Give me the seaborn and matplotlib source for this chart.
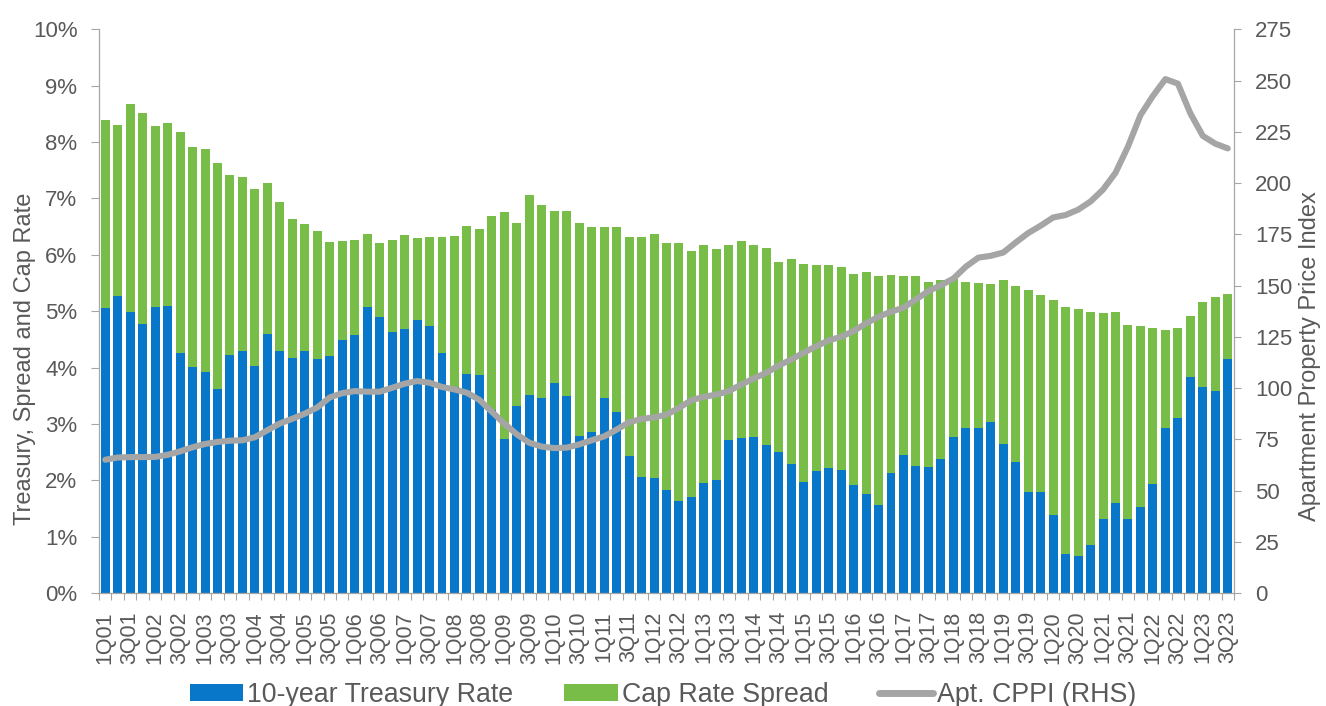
import numpy as np
import pandas as pd
import matplotlib
matplotlib.use("Agg")
import matplotlib.pyplot as plt
from matplotlib.patches import Patch
from matplotlib.lines import Line2D
from matplotlib.ticker import FixedLocator, FuncFormatter
import seaborn as sns

# ---------------- data ----------------
years = list(range(2001, 2024))
quarters = [f"{q}Q{str(y)[2:]}" for y in years for q in range(1, 5)][:91]

treasury = [
    5.05, 5.27, 4.98, 4.77, 5.08, 5.10, 4.26, 4.01,
    3.92, 3.62, 4.23, 4.29, 4.02, 4.60, 4.30, 4.17,
    4.30, 4.16, 4.21, 4.49, 4.57, 5.07, 4.90, 4.63,
    4.68, 4.85, 4.73, 4.26, 3.66, 3.89, 3.86, 3.25,
    2.74, 3.31, 3.52, 3.46, 3.72, 3.49, 2.79, 2.86,
    3.46, 3.21, 2.43, 2.05, 2.04, 1.82, 1.64, 1.71,
    1.95, 2.00, 2.71, 2.75, 2.76, 2.62, 2.50, 2.28,
    1.97, 2.17, 2.22, 2.19, 1.92, 1.75, 1.56, 2.13,
    2.44, 2.26, 2.24, 2.37, 2.76, 2.92, 2.93, 3.03,
    2.65, 2.33, 1.80, 1.80, 1.38, 0.69, 0.65, 0.86,
    1.32, 1.59, 1.32, 1.53, 1.94, 2.93, 3.10, 3.83,
    3.65, 3.59, 4.15,
]

cap_rate = [
    8.39, 8.31, 8.68, 8.52, 8.29, 8.33, 8.18, 7.91, 7.88, 7.63,
    7.42, 7.38, 7.16, 7.27, 6.93, 6.63, 6.54, 6.43, 6.23, 6.25,
    6.27, 6.36, 6.21, 6.27, 6.35, 6.30, 6.32, 6.32, 6.33, 6.51,
    6.45, 6.69, 6.76, 6.56, 7.06, 6.88, 6.77, 6.78, 6.57, 6.50,
    6.49, 6.49, 6.31, 6.32, 6.36, 6.21, 6.21, 6.07, 6.18, 6.11,
    6.18, 6.25, 6.18, 6.12, 5.88, 5.93, 5.83, 5.82, 5.82, 5.79,
    5.66, 5.69, 5.63, 5.64, 5.62, 5.63, 5.51, 5.55, 5.57, 5.51,
    5.50, 5.48, 5.56, 5.45, 5.38, 5.29, 5.20, 5.08, 5.03, 4.99,
    4.96, 4.98, 4.76, 4.73, 4.70, 4.66, 4.70, 4.92, 5.16, 5.25,
    5.30,
]

cppi = [
    65.0, 66.1, 66.3, 66.3, 66.4, 67.4, 69.1, 71.1, 72.7, 73.7,
    74.3, 74.5, 76.0, 79.4, 82.7, 85.0, 87.5, 90.5, 95.4, 97.5,
    98.5, 98.2, 98.2, 100.1, 102.1, 103.4, 102.6, 100.5, 99.3, 97.7,
    94.2, 88.4, 82.6, 77.4, 73.3, 71.4, 70.7, 70.9, 72.5, 74.5,
    76.4, 79.7, 83.3, 84.9, 85.7, 87.0, 90.3, 94.1, 95.7, 96.8,
    98.5, 101.7, 104.7, 107.4, 111.0, 113.9, 117.2, 120.4, 123.2, 125.0,
    127.8, 131.5, 134.8, 137.2, 139.2, 143.2, 147.3, 150.1, 153.4, 159.2,
    163.6, 164.5, 166.1, 171.0, 175.6, 179.2, 183.2, 184.4, 187.0, 191.0,
    196.8, 205.0, 217.8, 233.1, 242.5, 250.7, 248.5, 234.0, 223.0, 219.2,
    216.9,
]

series_names = ["10-year Treasury Rate", "Cap Rate Spread", "Apt. CPPI (RHS)"]
left_ticks = list(range(0, 11))
right_ticks = list(range(0, 276, 25))

# ---------------- style ----------------
BLUE = "#0877C9"
GREEN = "#77BD48"
GREY = "#A5A5A5"
TEXT = "#595959"
SPINE = "#A6A6A6"

sns.set_style("ticks")
plt.rcParams["font.family"] = ["Liberation Sans", "DejaVu Sans"]
plt.rcParams["text.color"] = TEXT
plt.rcParams["axes.labelcolor"] = TEXT
plt.rcParams["xtick.color"] = SPINE
plt.rcParams["ytick.color"] = SPINE
plt.rcParams["xtick.labelcolor"] = TEXT
plt.rcParams["ytick.labelcolor"] = TEXT

df = pd.DataFrame({"quarter": quarters, "treasury": treasury,
                   "cap_rate": cap_rate, "cppi": cppi})
df["pos"] = np.arange(len(df))

fig = plt.figure(figsize=(13.26, 7.06), dpi=100)
ax = fig.add_axes([99 / 1326, 1 - 593 / 706, (1234 - 99) / 1326, (593 - 29.3) / 706])

# stacked bars: total (green) behind, treasury (blue) in front
sns.barplot(data=df, x="quarter", y="cap_rate", order=quarters, color=GREEN,
            saturation=1, width=0.72, ax=ax, errorbar=None, linewidth=0)
sns.barplot(data=df, x="quarter", y="treasury", order=quarters, color=BLUE,
            saturation=1, width=0.72, ax=ax, errorbar=None, linewidth=0)

ax.set_xlim(-0.5, len(quarters) - 0.5)
ax.set_ylim(0, 10)
ax.set_yticks(left_ticks)
ax.yaxis.set_major_formatter(FuncFormatter(lambda v, p: f"{int(v)}%"))
ax.set_xticks(np.arange(0, len(quarters), 2))
ax.set_xticklabels(quarters[::2], rotation=90, fontsize=15.5, va="top")
ax.xaxis.set_minor_locator(FixedLocator(np.arange(-0.5, len(quarters), 1)))
ax.tick_params(axis="x", which="major", length=0, pad=13)
ax.tick_params(axis="x", which="minor", length=5, width=0.8, direction="out")
ax.tick_params(axis="y", length=5.5, width=0.8, pad=10, labelsize=16)
ax.set_xlabel("")
ax.set_ylabel("Treasury, Spread and Cap Rate", fontsize=17)
ax.yaxis.set_label_coords((36 - 99) / 1135, 0.415)
for s in ["top", "right"]:
    ax.spines[s].set_visible(False)
for s in ["left", "bottom"]:
    ax.spines[s].set_color(SPINE)
    ax.spines[s].set_linewidth(0.9)

# CPPI line on right axis
ax2 = ax.twinx()
sns.lineplot(data=df, x="pos", y="cppi", ax=ax2, color=GREY, linewidth=4.4,
             solid_capstyle="round", solid_joinstyle="round")
ax2.set_ylim(0, 275)
ax2.set_yticks(right_ticks)
ax2.tick_params(axis="y", length=5, width=0.8, pad=10, labelsize=16)
ax2.set_ylabel("Apartment Property Price Index", fontsize=17)
ax2.yaxis.set_label_coords((1299 - 99) / 1135, 0.42)
ax2.set_xlabel("")
ax2.set_xlim(-0.5, len(quarters) - 0.5)
for s in ["top", "left", "bottom"]:
    ax2.spines[s].set_visible(False)
ax2.spines["right"].set_color(SPINE)
ax2.spines["right"].set_linewidth(0.9)

handles = [Patch(facecolor=BLUE, edgecolor="none"),
           Patch(facecolor=GREEN, edgecolor="none"),
           Line2D([0], [0], color=GREY, linewidth=5, solid_capstyle="round")]
fig.legend(handles, series_names, loc="center", ncol=3,
           bbox_to_anchor=(663 / 1326, 1 - 695 / 706), frameon=False,
           fontsize=19.3, handlelength=2.0, handleheight=0.55,
           handletextpad=0.15, columnspacing=1.9, borderaxespad=0)

fig.savefig("out.png", dpi=100)
